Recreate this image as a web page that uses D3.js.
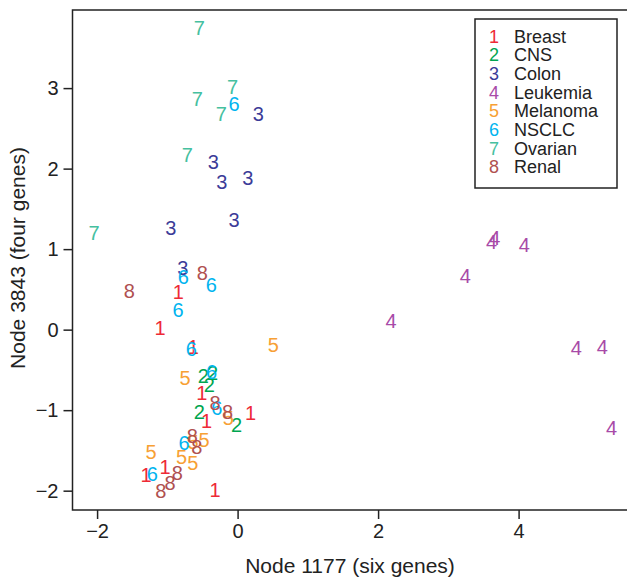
<!DOCTYPE html>
<html>
<head>
<meta charset="utf-8">
<script src="https://cdn.jsdelivr.net/npm/d3@7"></script>
<style>
  body { margin: 0; background: #fff; }
  svg { display: block; font-family: "Liberation Sans", Arial, Helvetica, sans-serif; }
</style>
</head>
<body>
<svg id="chart" width="627" height="579"></svg>
<script>
// class names and colours (legend order)
const classNames = ["Breast", "CNS", "Colon", "Leukemia", "Melanoma", "NSCLC", "Ovarian", "Renal"];
const classColors = ["#ee2a36", "#00a550", "#3b3b98", "#a84aa8", "#f7a034", "#00b4ef", "#45c0a0", "#b05050"];

// points per class: [node 1177, node 3843]
const breast = [[-0.844, 0.472], [-1.104, 0.017], [-0.630, -0.211], [-0.511, -0.782], [-0.440, -1.130],
    [0.186, -1.038], [-1.033, -1.701], [-1.304, -1.804], [-0.322, -1.990]];
const cns = [[-0.488, -0.575], [-0.357, -0.538], [-0.403, -0.687], [-0.545, -1.018], [-0.013, -1.183]];
const colon = [[0.295, 2.687], [-0.346, 2.086], [-0.226, 1.838], [0.144, 1.880], [-0.051, 1.362],
    [-0.952, 1.259], [-0.781, 0.762]];
const leukemia = [[3.663, 1.135], [3.616, 1.093], [4.080, 1.052], [3.240, 0.667], [2.186, 0.108],
    [4.820, -0.231], [5.190, -0.211], [5.324, -1.224]];
const melanoma = [[0.508, -0.190], [-0.749, -0.603], [-0.132, -1.100], [-1.232, -1.515], [-0.635, -1.394],
    [-0.478, -1.370], [-0.796, -1.584], [-0.639, -1.651]];
const nsclc = [[-0.051, 2.802], [-0.773, 0.651], [-0.374, 0.559], [-0.848, 0.245], [-0.659, -0.243],
    [-0.369, -0.521], [-0.297, -0.976], [-0.763, -1.410], [-1.214, -1.792]];
const ovarian = [[-0.545, 3.755], [-0.070, 3.017], [-0.574, 2.861], [-0.232, 2.678], [-0.716, 2.169],
    [-2.044, 1.204]];
const renal = [[-0.502, 0.700], [-1.541, 0.484], [-0.322, -0.914], [-0.141, -1.018], [-0.645, -1.320],
    [-0.582, -1.453], [-0.858, -1.776], [-0.962, -1.907], [-1.094, -1.999]];

const xTicks = [-2, 0, 2, 4];
const yTicks = [-2, -1, 0, 1, 2, 3];
const xTitle = "Node 1177 (six genes)";
const yTitle = "Node 3843 (four genes)";

const allClasses = [breast, cns, colon, leukemia, melanoma, nsclc, ovarian, renal];

const svg = d3.select("#chart");
const plotLeft = 72.5, plotRight = 631, plotTop = 10, plotBottom = 510;

const x = d3.scaleLinear().domain([-2.35, 5.6]).range([plotLeft, plotRight]);
const y = d3.scaleLinear().domain([-2.24, 3.97]).range([plotBottom, plotTop]);

// axes
const xAxis = svg.append("g")
    .attr("transform", `translate(0,${plotBottom})`)
    .call(d3.axisBottom(x).tickValues(xTicks).tickSize(9).tickSizeOuter(0).tickPadding(5).tickFormat(d3.format("d")));
const yAxis = svg.append("g")
    .attr("transform", `translate(${plotLeft},0)`)
    .call(d3.axisLeft(y).tickValues(yTicks).tickSize(9).tickSizeOuter(0).tickPadding(5).tickFormat(d3.format("d")));

[xAxis, yAxis].forEach(a => {
    a.select(".domain").remove();
    a.selectAll(".tick line").attr("stroke", "#222").attr("stroke-width", 1.5);
    a.selectAll(".tick text").attr("fill", "#222").attr("font-size", 20)
        .attr("font-family", "'Liberation Sans', Arial, sans-serif");
});

// frame: top, left, bottom (right edge falls outside the picture)
svg.append("rect")
    .attr("x", plotLeft).attr("y", plotTop)
    .attr("width", plotRight - plotLeft).attr("height", plotBottom - plotTop)
    .attr("fill", "none").attr("stroke", "#222").attr("stroke-width", 1.5);

// axis titles
svg.append("text")
    .attr("x", 350).attr("y", 573)
    .attr("text-anchor", "middle").attr("font-size", 21).attr("fill", "#222")
    .text(xTitle);
svg.append("text")
    .attr("transform", `translate(25,${(plotTop + plotBottom) / 2 - 2}) rotate(-90)`)
    .attr("text-anchor", "middle").attr("font-size", 21).attr("fill", "#222")
    .text(yTitle);

// points drawn as class digits
allClasses.forEach((pts, i) => {
    svg.append("g")
        .selectAll("text")
        .data(pts)
        .enter().append("text")
        .attr("x", d => x(d[0]))
        .attr("y", d => y(d[1]))
        .attr("dy", "0.36em")
        .attr("text-anchor", "middle")
        .attr("font-size", 20)
        .attr("fill", classColors[i])
        .text(i + 1);
});

// legend
const legend = svg.append("g");
legend.append("rect")
    .attr("x", 475).attr("y", 19).attr("width", 142).attr("height", 169)
    .attr("fill", "#fff").attr("stroke", "#222").attr("stroke-width", 1.5);
classNames.forEach((name, i) => {
    const by = 42.5 + i * 18.7;
    legend.append("text")
        .attr("x", 494).attr("y", by)
        .attr("text-anchor", "middle").attr("font-size", 18)
        .attr("fill", classColors[i])
        .text(i + 1);
    legend.append("text")
        .attr("x", 514).attr("y", by)
        .attr("font-size", 18).attr("fill", "#222")
        .text(name);
});
</script>
</body>
</html>
